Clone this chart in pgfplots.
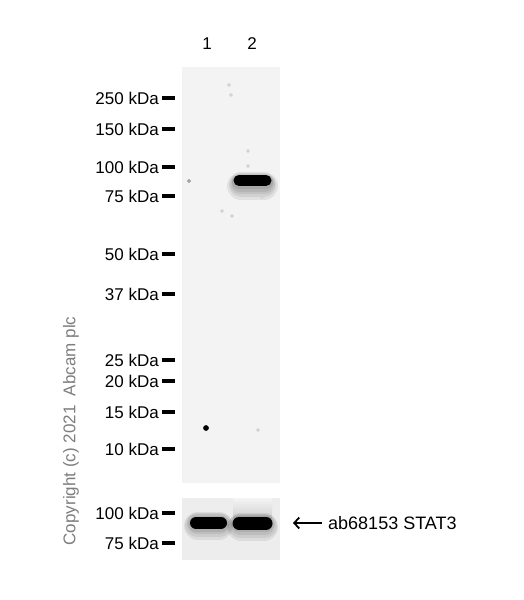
\documentclass[border=0pt]{standalone}
\usepackage{pgfplots}
\pgfplotsset{compat=1.18}
\usepackage{fontspec}
\setmainfont{Liberation Sans}
\usetikzlibrary{arrows.meta}

\definecolor{membrane}{HTML}{F3F3F3}
\definecolor{membranelow}{HTML}{EDEDED}
\definecolor{copygray}{HTML}{7E7E7E}

\pgfplotsset{
  halo/.style={black, opacity=0.07, line width=#1, line cap=round},
}

\begin{document}
\begin{tikzpicture}
\begin{axis}[
  width=523bp, height=600bp,
  scale only axis,
  xmin=0, xmax=523,
  ymin=0, ymax=600,
  y dir=reverse,
  hide axis,
  clip=false,
  every node near coord/.style={font=\fontsize{17bp}{20bp}\selectfont, inner sep=0pt, anchor=east, black},
]

% page background
\addplot[fill=white, draw=none] coordinates {(0,0) (523,0) (523,600) (0,600)};

% membranes
\addplot[fill=membrane, draw=none] coordinates {(182,67) (280,67) (280,483) (182,483)};
\addplot[fill=membranelow, draw=none] coordinates {(182,498) (280,498) (280,560) (182,560)};

% lane 2 smear above the loading band
\addplot[draw=none, top color=black!4, bottom color=black!18, shading angle=0]
  coordinates {(233,498) (272,498) (272,518) (233,518)};

% lane 2 STAT3 band, upper blot (soft halo + tail below)
\addplot[halo=28bp] coordinates {(241,186) (264,186)};
\addplot[halo=24bp] coordinates {(241,185) (264,185)};
\addplot[halo=20bp] coordinates {(240,184) (265,184)};
\addplot[halo=17bp] coordinates {(240,183) (265,183)};
\addplot[halo=14bp] coordinates {(239,182) (266,182)};
\addplot[black, line width=11bp, line cap=round] coordinates {(239,180.5) (266,180.5)};

% loading bands, lower blot
\addplot[halo=28bp] coordinates {(198,526) (219,526)};
\addplot[halo=24bp] coordinates {(197,525) (220,525)};
\addplot[halo=20bp] coordinates {(197,524) (220,524)};
\addplot[halo=16bp] coordinates {(196,523.5) (221,523.5)};
\addplot[black, line width=12bp, line cap=round] coordinates {(196,523) (221,523)};
\addplot[halo=28bp] coordinates {(241,527) (264,527)};
\addplot[halo=24bp] coordinates {(240,526) (265,526)};
\addplot[halo=20bp] coordinates {(240,525) (265,525)};
\addplot[halo=16bp] coordinates {(239,524) (266,524)};
\addplot[black, line width=13bp, line cap=round] coordinates {(239,523.5) (266,523.5)};

% specks
\addplot[only marks, mark=*, mark size=2.6bp, black] coordinates {(206,428)};
\addplot[only marks, mark=*, mark size=1.8bp, gray!70] coordinates {(189,181)};
\addplot[only marks, mark=*, mark size=1.6bp, gray!35] coordinates {
(229,85) (231,95) (248,151) (248,166) (222,211) (232,216) (262,197) (258,430)
};

% marker dashes
\addplot[only marks, mark=-, mark size=6.5bp, mark options={line width=4bp}] coordinates {
(168.5,98) (168.5,129) (168.5,167) (168.5,196) (168.5,254) (168.5,294)
(168.5,360) (168.5,381) (168.5,412) (168.5,449) (168.5,513) (168.5,543)
};

% marker labels
\addplot[draw=none, nodes near coords, point meta=explicit symbolic] coordinates {
(159,98) [250 kDa]
(159,129) [150 kDa]
(159,167) [100 kDa]
(159,196) [75 kDa]
(159,254) [50 kDa]
(159,294) [37 kDa]
(159,360) [25 kDa]
(159,381) [20 kDa]
(159,412) [15 kDa]
(159,449) [10 kDa]
(159,513) [100 kDa]
(159,543) [75 kDa]
};

% lane numbers
\addplot[draw=none, nodes near coords, point meta=explicit symbolic,
  every node near coord/.append style={anchor=center}] coordinates {
(207,44) [1]
(252,44) [2]
};

% arrow and antibody label
\addplot[black, line width=1.8bp, {Straight Barb[length=5bp, width=11bp]}-] coordinates {(293,523) (322,523)};
\addplot[draw=none, nodes near coords, point meta=explicit symbolic,
  every node near coord/.append style={anchor=west, font=\fontsize{18bp}{21bp}\selectfont}] coordinates {
(328,523) [ab68153 STAT3]
};

% copyright
\addplot[draw=none, nodes near coords, point meta=explicit symbolic,
  every node near coord/.append style={anchor=center, rotate=90, text=copygray}] coordinates {
(71,431) [Copyright (c) 2021~~Abcam plc]
};

\end{axis}
\end{tikzpicture}
\end{document}
